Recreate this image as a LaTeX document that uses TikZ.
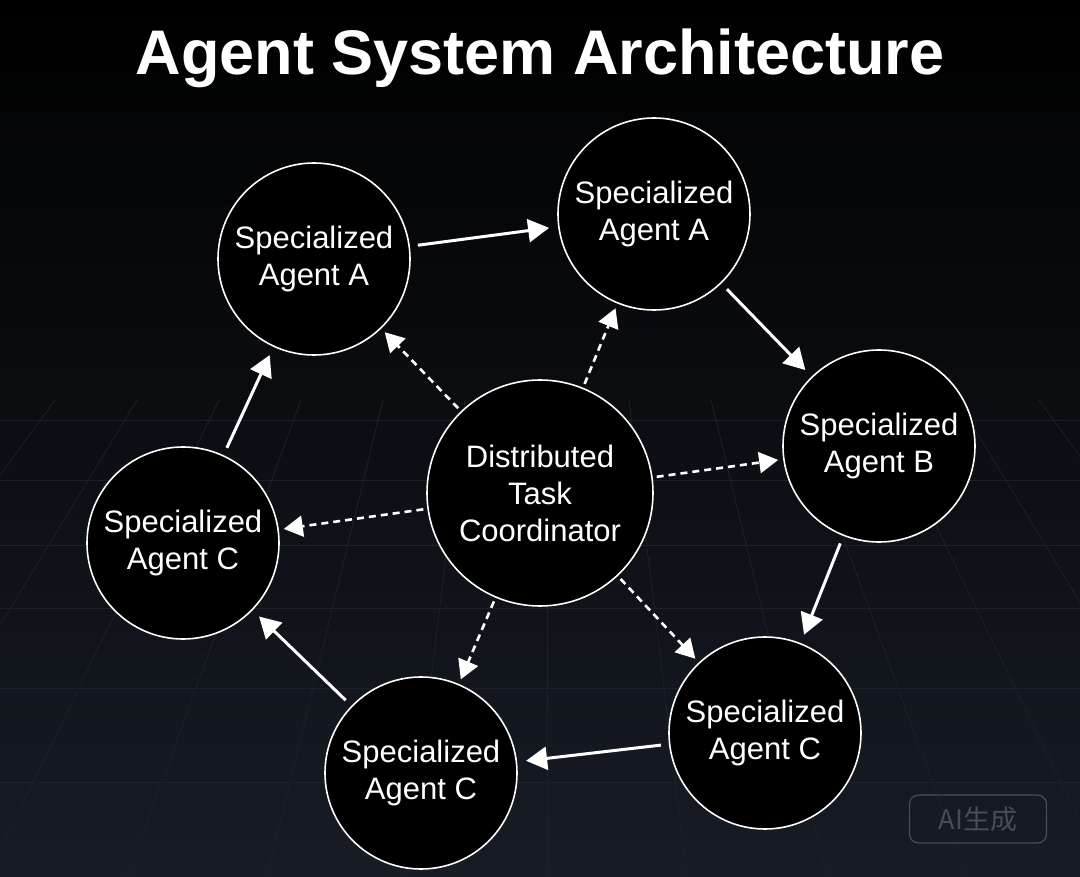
\documentclass[tikz,border=0pt]{standalone}
\usepackage{xcolor}
\usepackage{fontspec}
\setmainfont{Liberation Sans}
\newfontfamily\cjkfont{Noto Sans CJK SC}
\usepackage{tikz}
\usetikzlibrary{positioning, arrows.meta, calc}
\definecolor{bgtop}{HTML}{000000}
\definecolor{bgmid}{HTML}{06070A}
\definecolor{bgbottom}{HTML}{171C25}
\definecolor{gridline}{HTML}{1C2129}
\definecolor{markgray}{HTML}{474C56}

\begin{document}
\begin{tikzpicture}[x=1pt, y=-1pt,
    agent/.style={circle, draw=white, line width=1.6pt, fill=black, text=white,
      minimum size=192pt, inner sep=0pt, align=center,
      font=\fontsize{31}{37}\selectfont},
    flow/.style={draw=white, line width=3pt, -{Triangle[length=21pt, width=23pt]},
      shorten <=8pt, shorten >=9pt},
    assign/.style={draw=white, line width=2.6pt, dash pattern=on 7pt off 5pt,
      -{Triangle[length=19pt, width=21pt]}, shorten <=4pt, shorten >=5pt}]
  \useasboundingbox (0,0) rectangle (1080,877);
  \shade[top color=bgtop, middle color=bgmid, bottom color=bgbottom] (0,0) rectangle (1080,877);

  % floor grid
  \begin{scope}
    \clip (0,400) rectangle (1080,877);
    \foreach \k in {-7,...,7}
      \draw[gridline, line width=0.8pt] ({547+\k*82},400) -- ({547+\k*140},877);
    \foreach \y in {420,480,545,608,688,782}
      \draw[gridline, line width=0.8pt] (0,\y) -- (1080,\y);
  \end{scope}

  \node[text=white, font=\fontsize{63}{70}\selectfont\bfseries, anchor=base] (title) at (540,75)
    {Agent System Architecture};

  \node[agent, minimum size=226pt] (coord) at (540,493)
    {Distributed\\Task\\Coordinator};
  \node[agent] (agentA1) at (314,259) {Specialized\\Agent A};
  \node[agent] (agentA2) at (654,214) {Specialized\\Agent A};
  \node[agent] (agentB) at (879,446) {Specialized\\Agent B};
  \node[agent] (agentCr) at (765,733) {Specialized\\Agent C};
  \node[agent] (agentCb) at (421,773) {Specialized\\Agent C};
  \node[agent] (agentCl) at (183,543) {Specialized\\Agent C};

  \draw[flow] (agentA1) -- (agentA2);
  \draw[flow] (agentA2) -- (agentB);
  \draw[flow] (agentB) -- (agentCr);
  \draw[flow] (agentCr) -- (agentCb);
  \draw[flow] (agentCb) -- (agentCl);
  \draw[flow] (agentCl) -- (agentA1);

  \foreach \target in {agentA1, agentA2, agentB, agentCr, agentCb, agentCl}
    \draw[assign] (coord) -- (\target);

  \node[draw=markgray, rounded corners=9pt, line width=1.2pt, text=markgray,
        minimum width=137pt, minimum height=48pt, font=\cjkfont\fontsize{27}{30}\selectfont]
    (mark) at (978,819) {AI生成};
\end{tikzpicture}
\end{document}
